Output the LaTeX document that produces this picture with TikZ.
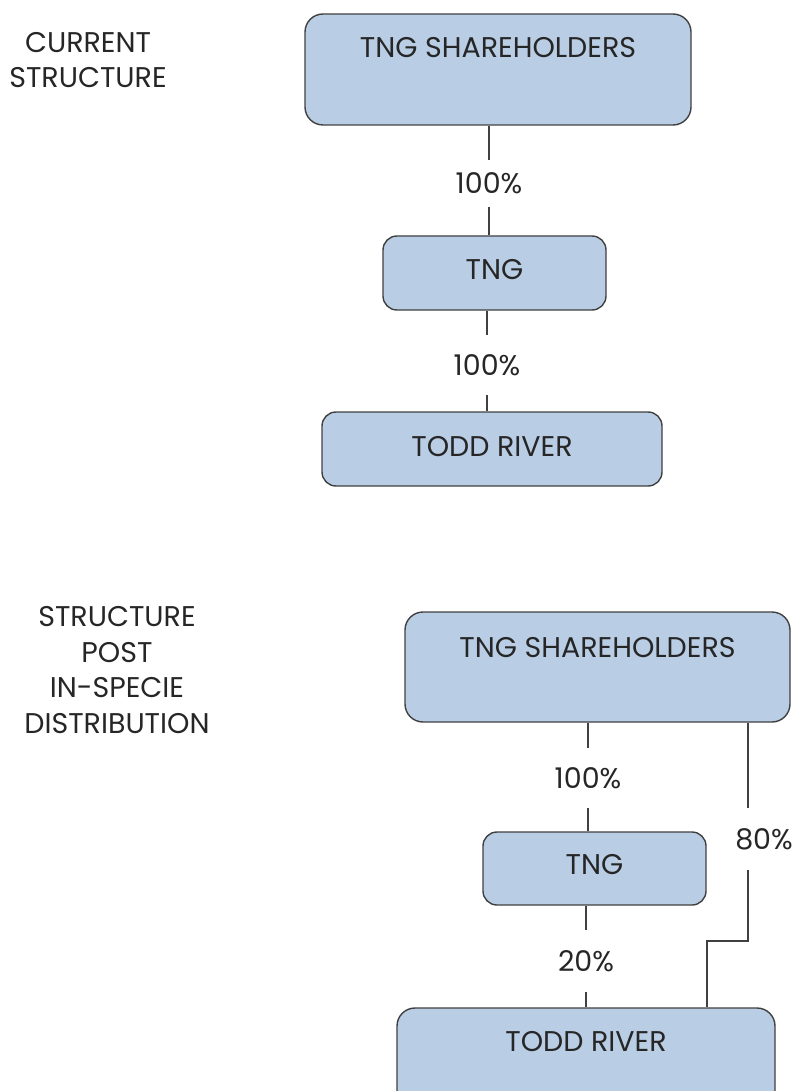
\documentclass[tikz,border=0pt]{standalone}
\usepackage{fontspec}
\setmainfont{Poppins}
\definecolor{boxfill}{HTML}{B9CDE5}
\definecolor{boxline}{HTML}{404040}
\definecolor{txtcol}{HTML}{262626}
\newcommand{\fsz}{\fontsize{28.5}{35.5}\selectfont}
\tikzset{
  box/.style={draw=boxline, line width=1.4pt, fill=boxfill, rounded corners=14pt, inner sep=0pt},
  txt/.style={text=txtcol, font=\fsz, inner sep=0pt, align=center},
  pct/.style={text=txtcol, font=\fsz, inner sep=0pt, fill=white},
  conn/.style={draw=boxline, line width=1.4pt}
}
\begin{document}
\begin{tikzpicture}[x=1pt,y=-1pt]
\useasboundingbox (0,0) rectangle (792,1091);
% ---------- current structure ----------
\node[txt] (lab1) at (88,60) {CURRENT\\STRUCTURE};
\node[box, minimum width=386, minimum height=111, rounded corners=18pt] (sh1) at (498,69.5) {};
\node[txt] (sh1t) at (498,48) {TNG SHAREHOLDERS};
\node[box, minimum width=223, minimum height=74] (tng1) at (494.5,273) {};
\node[txt] (tng1t) at (494.5,270) {TNG};
\node[box, minimum width=340, minimum height=74] (tr1) at (492,449) {};
\node[txt] (tr1t) at (492,447) {TODD RIVER};
\node[pct, minimum height=47] (p1) at (489,183.5) {100\%};
\node[pct, minimum height=60] (p2) at (487,365) {100\%};
\draw[conn] (sh1.south -| p1) -- (p1);
\draw[conn] (p1) -- (tng1.north -| p1);
\draw[conn] (tng1.south -| p2) -- (p2);
\draw[conn] (p2) -- (tr1.north -| p2);
% ---------- post in-specie ----------
\node[txt] (lab2) at (117,670) {STRUCTURE\\POST\\IN-SPECIE\\DISTRIBUTION};
\node[box, minimum width=385, minimum height=110, rounded corners=18pt] (sh2) at (597.5,667) {};
\node[txt] (sh2t) at (597.5,648) {TNG SHAREHOLDERS};
\node[box, minimum width=223, minimum height=73] (tng2) at (594.5,868.5) {};
\node[txt] (tng2t) at (594.5,865) {TNG};
\node[box, minimum width=378, minimum height=110, rounded corners=18pt] (tr2) at (586,1063) {};
\node[txt] (tr2t) at (586,1042) {TODD RIVER};
\node[pct, minimum height=60] (p3) at (588,778) {100\%};
\node[pct, minimum height=62] (p4) at (586,961) {20\%};
\node[pct, minimum height=62, fill=none] (p5) at (764,839) {80\%};
\coordinate (c80) at (748,0);
\coordinate (bend) at (707,941);
\draw[conn] (sh2.south -| p3) -- (p3);
\draw[conn] (p3) -- (tng2.north -| p3);
\draw[conn] (tng2.south -| p4) -- (p4);
\draw[conn] (p4) -- (tr2.north -| p4);
\draw[conn] (sh2.south -| c80) -- (p5.north -| c80);
\draw[conn] (p5.south -| c80) |- (bend) -- (tr2.north -| bend);
\end{tikzpicture}
\end{document}
